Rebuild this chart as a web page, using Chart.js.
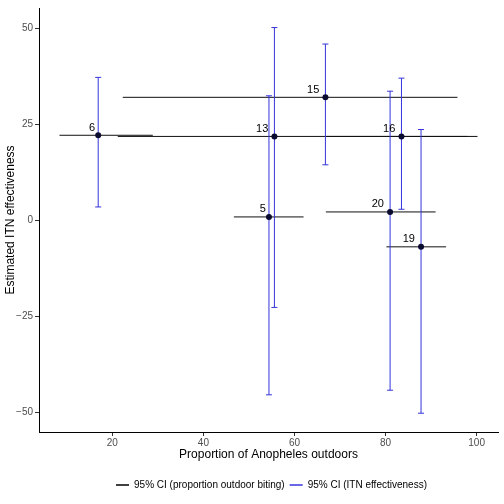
<!DOCTYPE html>
<html>
<head>
<meta charset="utf-8">
<script src="https://cdn.jsdelivr.net/npm/chart.js@4"></script>
<style>
  html, body { margin: 0; padding: 0; background: #fff; }
  #wrap { width: 504px; height: 504px; }
</style>
</head>
<body>
<div id="wrap"><canvas id="itnChart" width="504" height="504"></canvas></div>
<script>
// study labels and estimates
const studies = ["6", "13", "15", "5", "16", "20", "19"]
const outdoor = [16.9, 55.6, 66.8, 54.4, 83.5, 81.0, 87.8]
const outdoorLo = [8.4, 21.2, 22.3, 46.7, 67.0, 66.9, 80.2]
const outdoorHi = [28.9, 100.2, 95.8, 62.0, 98.0, 91.0, 93.3]
const itnEff = [22.2, 21.9, 32.1, 0.9, 21.9, 2.2, -6.9]
const itnLo = [3.5, -22.7, 14.5, -45.5, 2.9, -44.3, -50.3]
const itnHi = [37.3, 50.3, 46.0, 32.5, 37.1, 33.7, 23.7]

const xTicks = [20, 40, 60, 80, 100]
const yTicks = [-50, -25, 0, 25, 50]

const FONT = "'Liberation Sans', Arial, Helvetica, sans-serif"
const BLUE = "#3434dc"

const datasets = []

// horizontal CI (proportion outdoor biting)
studies.forEach((s, i) => {
    datasets.push({
        label: "h" + s,
        data: [{x: outdoorLo[i], y: itnEff[i]}, {x: outdoorHi[i], y: itnEff[i]}],
        showLine: true,
        borderColor: "#111",
        borderWidth: 1,
        pointRadius: 0,
        order: 3,
    })
})

// vertical CI (ITN effectiveness), caps drawn as line point style
studies.forEach((s, i) => {
    datasets.push({
        label: "v" + s,
        data: [{x: outdoor[i], y: itnLo[i]}, {x: outdoor[i], y: itnHi[i]}],
        showLine: true,
        borderColor: BLUE,
        borderWidth: 1,
        pointStyle: "line",
        pointRadius: 3,
        pointBorderColor: BLUE,
        pointBorderWidth: 1,
        order: 2,
    })
})

datasets.push({
    label: "points",
    data: studies.map((s, i) => ({x: outdoor[i], y: itnEff[i]})),
    backgroundColor: "#0b0b30",
    borderColor: "#0b0b30",
    pointRadius: 3,
    borderWidth: 0,
    order: 1,
})

const studyLabels = {
    id: "studyLabels",
    afterDatasetsDraw(chart) {
        const ctx = chart.ctx
        const xs = chart.scales.x
        const ys = chart.scales.y
        ctx.save()
        ctx.font = "11px " + FONT
        ctx.fillStyle = "#000"
        ctx.textAlign = "left"
        ctx.textBaseline = "alphabetic"
        studies.forEach((s, i) => {
            const px = xs.getPixelForValue(outdoor[i])
            const py = ys.getPixelForValue(itnEff[i])
            const w = ctx.measureText(s).width
            ctx.fillText(s, px - 1.5 * w, py - 4.5)
        })
        ctx.restore()
    }
}

// centre the legend under the panel rather than the whole canvas
const legendShift = {
    id: "legendShift",
    afterLayout(chart) {
        const d = (chart.chartArea.left + chart.chartArea.right) / 2 - chart.width / 2 + 6
        chart.legend.left += d
        chart.legend.right += d
    }
}

const fmt = v => (v < 0 ? "\u2212" + Math.abs(v) : String(v))

const graphConfig = {
    type: "scatter",
    data: { datasets: datasets },
    options: {
        responsive: false,
        animation: false,
        layout: { padding: { top: 2, right: 6, bottom: 4, left: 0 } },
        scales: {
            x: {
                type: "linear",
                min: 3.9,
                max: 104.7,
                afterBuildTicks: s => { s.ticks = xTicks.map(v => ({value: v})) },
                afterFit: s => { s.height = 43 },
                grid: { drawOnChartArea: false, drawTicks: true, tickLength: 4, color: "#333" },
                border: { display: true, color: "#000", width: 1 },
                ticks: { color: "#4d4d4d", font: { family: FONT, size: 10 }, padding: 1, maxRotation: 0 },
                title: { display: true, text: "Proportion of Anopheles outdoors", color: "#000",
                         font: { family: FONT, size: 12 }, padding: { top: 0, bottom: 13 } },
            },
            y: {
                type: "linear",
                min: -55.2,
                max: 55.4,
                afterBuildTicks: s => { s.ticks = yTicks.map(v => ({value: v})) },
                afterFit: s => { s.width = 39 },
                grid: { drawOnChartArea: false, drawTicks: true, tickLength: 4, color: "#333" },
                border: { display: true, color: "#000", width: 1 },
                ticks: { color: "#4d4d4d", font: { family: FONT, size: 10 }, padding: 2, callback: v => fmt(v) },
                title: { display: true, text: "Estimated ITN effectiveness", color: "#000",
                         font: { family: FONT, size: 12 }, padding: { top: 3, bottom: 0 } },
            },
        },
        plugins: {
            tooltip: { enabled: false },
            legend: {
                position: "bottom",
                labels: {
                    usePointStyle: true,
                    pointStyleWidth: 13,
                    padding: 5,
                    color: "#000",
                    font: { family: FONT, size: 10 },
                    generateLabels: () => [
                        { text: "95% CI (proportion outdoor biting)", pointStyle: "line", strokeStyle: "#000",
                          fillStyle: "#000", lineWidth: 1.5, datasetIndex: 0 },
                        { text: "95% CI (ITN effectiveness)", pointStyle: "line", strokeStyle: BLUE,
                          fillStyle: BLUE, lineWidth: 1.5, datasetIndex: 7 },
                    ],
                },
            },
        },
    },
    plugins: [studyLabels, legendShift],
}

const ctx = document.getElementById("itnChart")
const myChart = new Chart(ctx, graphConfig)
</script>
</body>
</html>
